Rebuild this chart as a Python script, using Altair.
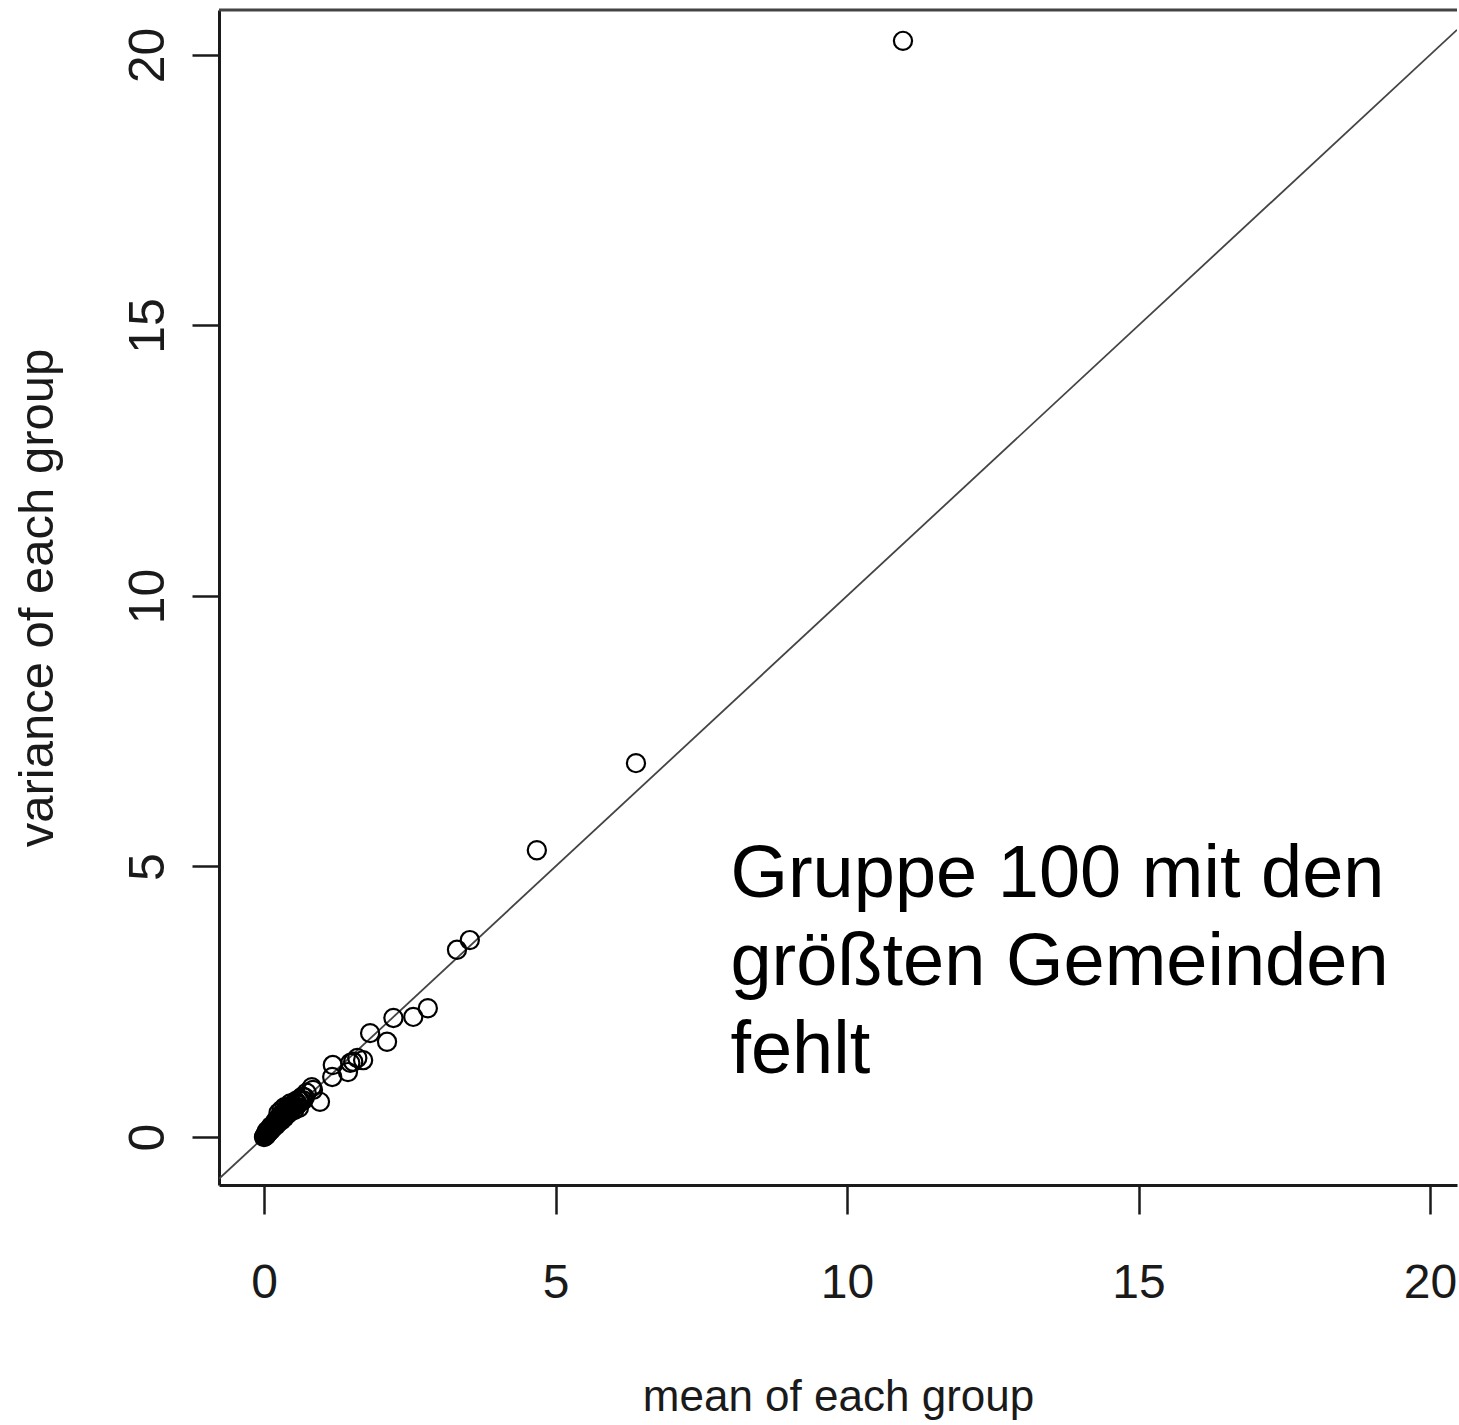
import altair as alt
import pandas as pd

# group means (x) and variances (y)
group_mean = [10.96, 6.38, 4.68, 3.53, 3.31, 2.81, 2.56, 2.22, 2.11, 1.82,
              1.70, 1.60, 1.53, 1.48, 1.44, 1.18, 1.17, 0.96, 0.84, 0.82,
              0.67, 0.50,
              0.02, 0.04, 0.06, 0.08, 0.10, 0.12, 0.15, 0.18, 0.20, 0.22,
              0.25, 0.28, 0.30, 0.33, 0.35, 0.38, 0.40, 0.43, 0.46, 0.48,
              0.52, 0.55, 0.58, 0.60, 0.63, 0.66, 0.70, 0.73, 0.25, 0.30,
              0.35, 0.45, 0.60,
              0.00, 0.01, 0.03, 0.05, 0.07, 0.09, 0.11, 0.13, 0.14, 0.16,
              0.17, 0.19, 0.21, 0.23, 0.24, 0.26, 0.27, 0.29, 0.31, 0.32,
              0.34, 0.36, 0.37, 0.39, 0.41, 0.42, 0.44, 0.47, 0.50, 0.53,
              0.56, 0.20, 0.28, 0.38, 0.42, 0.54, 0.12, 0.09, 0.05, 0.03]
group_var = [20.26, 6.91, 5.30, 3.64, 3.46, 2.38, 2.22, 2.20, 1.76, 1.92,
             1.42, 1.46, 1.39, 1.37, 1.20, 1.33, 1.11, 0.65, 0.87, 0.92,
             0.68, 0.55,
             0.02, 0.03, 0.07, 0.09, 0.12, 0.13, 0.17, 0.22, 0.21, 0.27,
             0.28, 0.33, 0.31, 0.40, 0.36, 0.45, 0.42, 0.50, 0.47, 0.58,
             0.50, 0.62, 0.60, 0.70, 0.66, 0.75, 0.73, 0.82, 0.45, 0.50,
             0.55, 0.62, 0.54,
             0.00, 0.01, 0.04, 0.05, 0.09, 0.10, 0.14, 0.15, 0.18, 0.19,
             0.22, 0.23, 0.26, 0.26, 0.31, 0.30, 0.36, 0.34, 0.38, 0.41,
             0.39, 0.44, 0.47, 0.43, 0.48, 0.52, 0.50, 0.55, 0.60, 0.57,
             0.64, 0.30, 0.40, 0.52, 0.56, 0.66, 0.20, 0.15, 0.11, 0.06]

x_ticks = [0, 5, 10, 15, 20]
y_ticks = [0, 5, 10, 15, 20]
x_domain = [-0.772, 20.463]
y_domain = [-0.887, 20.83]

# reference line y = x (intercept 0, slope 1)
ab_intercept, ab_slope = 0.0, 1.0
ab_x = x_domain

annotation = "Gruppe 100 mit den\ngrößten Gemeinden\nfehlt"
annot_x, annot_y = 8.0, 4.44

W, H = 1238, 1175
REG = "'Liberation Sans', Arial, sans-serif"

pts = pd.DataFrame({"mean": group_mean, "var": group_var})
ab = pd.DataFrame({"mean": ab_x, "var": [ab_intercept + ab_slope * v for v in ab_x]})

xscale = alt.Scale(domain=x_domain, nice=False, zero=False)
yscale = alt.Scale(domain=y_domain, nice=False, zero=False)

xaxis = alt.Axis(values=x_ticks, format="d", title="mean of each group", grid=False,
                 labelFont=REG, labelFontSize=48, labelColor="#1a1a1a",
                 labelBaseline="alphabetic", labelPadding=83,
                 tickSize=29, tickWidth=2.5, tickColor="#1a1a1a",
                 domainWidth=3, domainColor="#1a1a1a",
                 titleFont=REG, titleFontSize=44, titleFontWeight="normal",
                 titleColor="#1a1a1a", titleBaseline="alphabetic", titleY=225)
yaxis = alt.Axis(values=y_ticks, format="d", title="variance of each group", grid=False,
                 labelFont=REG, labelFontSize=50, labelColor="#1a1a1a",
                 labelAngle=270, labelAlign="center", labelBaseline="alphabetic",
                 labelPadding=29,
                 tickSize=27, tickWidth=2.5, tickColor="#1a1a1a",
                 domainWidth=3, domainColor="#1a1a1a",
                 titleFont=REG, titleFontSize=49, titleFontWeight="normal",
                 titleColor="#1a1a1a", titleBaseline="alphabetic", titleX=-167,
                 titleAngle=270)

line = alt.Chart(ab).mark_line(color="#444444", strokeWidth=1.8, clip=True).encode(
    x=alt.X("mean:Q", scale=xscale, axis=xaxis),
    y=alt.Y("var:Q", scale=yscale, axis=yaxis),
)

points = alt.Chart(pts).mark_point(shape="circle", filled=False, color="black",
                                   size=330, strokeWidth=2.2, opacity=1).encode(
    x=alt.X("mean:Q", scale=xscale),
    y=alt.Y("var:Q", scale=yscale),
)

text = alt.Chart(pd.DataFrame({"mean": [annot_x], "var": [annot_y], "t": [annotation]})).mark_text(
    align="left", baseline="alphabetic", font=REG, fontSize=74, lineHeight=88,
    lineBreak="\n", color="black").encode(
    x=alt.X("mean:Q", scale=xscale),
    y=alt.Y("var:Q", scale=yscale),
    text="t:N",
)

toprule = alt.Chart(pd.DataFrame({"a": [0]})).mark_rule(color="#444444", strokeWidth=3).encode(
    x=alt.value(0), x2=alt.value(W), y=alt.value(0)
)

chart = alt.layer(line, points, text, toprule).properties(
    width=W, height=H,
    padding={"left": 219, "top": 10, "right": 2, "bottom": 238},
    autosize=alt.AutoSizeParams(type="none"),
    background="white",
).configure_view(stroke=None)

chart.save("out.html", embed_options={"renderer": "svg", "actions": False})
